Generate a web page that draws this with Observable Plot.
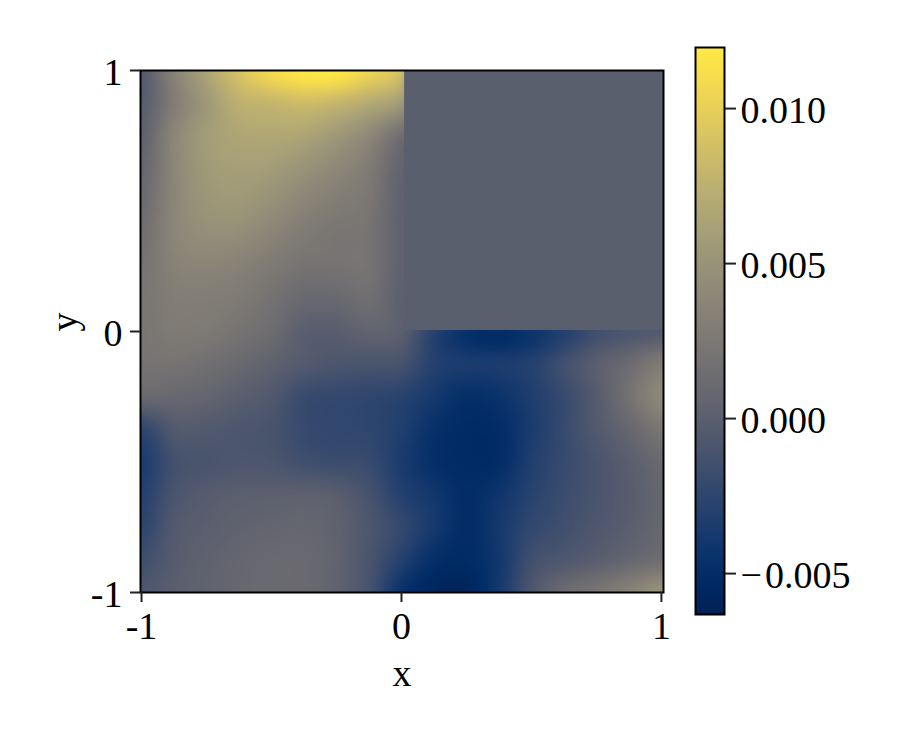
<!DOCTYPE html>
<html><head><meta charset="utf-8">
<script src="https://cdn.jsdelivr.net/npm/d3@7"></script>
<script src="https://cdn.jsdelivr.net/npm/@observablehq/plot@0.6"></script>
<style>
html,body{margin:0;padding:0;background:#fff}
#wrap{position:relative;width:900px;height:750px;overflow:hidden}
#wrap>div,#wrap>svg{position:absolute}
</style></head><body><div id="wrap"></div>
<script>
// field values in units of 1e-3, rows from y=1 down to y=-1, columns x=-1..1, step 0.125
const row00 = [-0.5,3.5,6.5,9,11,12,12,10.5,8.5,0,0,0,0,0,0,0,0];
const row01 = [-0.2,3,5.5,7.5,8,8.5,8,7,5.5,0,0,0,0,0,0,0,0];
const row02 = [0.3,3.8,5.8,6.6,6.8,6.5,5.5,4,1.5,0,0,0,0,0,0,0,0];
const row03 = [0.8,3.8,5.6,6,5.8,5,4,2.8,0.5,0,0,0,0,0,0,0,0];
const row04 = [1.2,3.8,5.2,5.5,4.8,3.8,3,2.3,0.3,0,0,0,0,0,0,0,0];
const row05 = [1.6,3.8,4.6,4.5,3.7,2.8,2.2,2,0.3,0,0,0,0,0,0,0,0];
const row06 = [2,3.4,3.7,3.4,2.7,2,2,2,0.3,0,0,0,0,0,0,0,0];
const row07 = [2.2,3,3,2.7,1.9,1,1,1.5,0.2,0,0,0,0,0,0,0,0];
const row08 = [2.2,2.7,2.6,2,1.3,0,-0.1,0.5,0,-2.8,-4.5,-5,-4.2,-3,-1.5,-0.8,-0.5];
const row09 = [2,2,1.6,1,0.3,-0.4,-0.9,-1,-1.2,-3,-3.5,-3.5,-3,-1.5,0,1.2,2.8];
const row10 = [1,0.9,0.6,0,-0.6,-1.9,-2.2,-2.4,-2.8,-3.8,-4.8,-4.4,-3.3,-2,-0.3,1.8,4];
const row11 = [-2.5,-0.5,-0.5,-0.8,-1.1,-2,-2.3,-2.5,-3.2,-4.6,-5.2,-5,-3.5,-2,-0.5,0.8,2.3];
const row12 = [-3.4,-1.4,-1,-0.8,-0.9,-1.5,-1.8,-2,-3.5,-4.8,-5.2,-5,-3.2,-2,-1,0,1];
const row13 = [-3,-1,-0.3,0,0.1,0.2,-0.1,-1.2,-3,-4,-5,-4.2,-2.8,-1.8,-1,-0.2,0.7];
const row14 = [-2.5,-0.5,0,0.4,0.6,0.7,0.3,-0.8,-2.2,-3.8,-5,-3.8,-2.3,-1.5,-0.7,0,0.8];
const row15 = [-1.5,-0.3,0.3,0.7,1,1,0.4,-1,-3,-4.8,-5.2,-4,-1.5,-0.7,0,0.8,1.5];
const row16 = [-0.8,0,0.4,0.8,1,1,0.3,-1.2,-4.5,-5.7,-5.8,-3.8,-0.8,1.2,2.2,3.5,5];
const rows = [row00,row01,row02,row03,row04,row05,row06,row07,row08,row09,row10,row11,row12,row13,row14,row15,row16];

const xTicks = [-1,0,1], yTicks = [-1,0,1];
const barTicks = [-0.005,0,0.005,0.010];
const barLabels = ["\u2212\u200A0.005","0.000","0.005","0.010"];
const colorDomain = [-0.00632,0.01197];
const xDomain = [-1.004,1.008];
const yDomain = [-1,1];
const blank = [{x1:0.012,x2:1.008,y1:0.004,y2:1,v:0}];

const color = {type:"linear",scheme:"cividis",domain:colorDomain};
const font = {fontFamily:"'Liberation Serif',serif",fontSize:"38px",color:"#000",background:"transparent",overflow:"visible"};

function cr(p0,p1,p2,p3,t){return p1+0.5*t*(p2-p0+t*(2*p0-5*p1+4*p2-p3+t*(3*(p1-p2)+p3-p0)));}
function at(i,j){return rows[Math.max(0,Math.min(16,j))][Math.max(0,Math.min(16,i))];}
function field(x,y){
  const u=Math.max(0,Math.min(16,(x+1)*8)), v=Math.max(0,Math.min(16,(1-y)*8));
  const i=Math.min(15,Math.floor(u)), j=Math.min(15,Math.floor(v)), s=u-i, t=v-j;
  const c=[];
  for(let k=-1;k<3;k++) c.push(cr(at(i-1,j+k),at(i,j+k),at(i+1,j+k),at(i+2,j+k),s));
  return cr(c[0],c[1],c[2],c[3],t)*0.001;
}

const main = Plot.plot({
  width:900,height:750,marginLeft:140,marginRight:237,marginTop:70,marginBottom:158,
  style:font,
  x:{domain:xDomain},y:{domain:yDomain},color,
  marks:[
    Plot.raster({fill:field,pixelSize:1,x1:xDomain[0],x2:xDomain[1],y1:yDomain[0],y2:yDomain[1]}),
    Plot.rect(blank,{x1:"x1",x2:"x2",y1:"y1",y2:"y2",fill:"v"}),
    Plot.frame({stroke:"#000",strokeWidth:2}),
    Plot.axisX({ticks:xTicks,tickSize:10,tickPadding:10,strokeWidth:2,stroke:"#222",fill:"#000",fontSize:38,
      tickFormat:d=>d<0?"-1":String(d),label:null}),
    Plot.axisY({ticks:yTicks,tickSize:10,strokeWidth:2,stroke:"#222",text:null,label:null}),
    Plot.axisY({ticks:yTicks,tickSize:0,tickPadding:18,dy:2,fill:"#000",fontSize:38,
      tickFormat:d=>d<0?"-1":String(d),label:null}),
    Plot.text(["x"],{frameAnchor:"bottom",dy:93,fill:"#000",fontSize:38}),
    Plot.text(["y"],{frameAnchor:"left",dx:-76,rotate:-90,fill:"#000",fontSize:38})
  ]
});
const bar = Plot.plot({
  width:207,height:571,marginLeft:2,marginRight:176,marginTop:2,marginBottom:2,
  style:font,
  x:{domain:[0,1],axis:null},y:{domain:colorDomain},color,
  marks:[
    Plot.raster({fill:(x,y)=>y,pixelSize:1,x1:0,x2:1,y1:colorDomain[0],y2:colorDomain[1]}),
    Plot.frame({stroke:"#000",strokeWidth:2}),
    Plot.axisY({anchor:"right",ticks:barTicks,tickSize:11,strokeWidth:2,stroke:"#222",text:null,label:null}),
    Plot.axisY({anchor:"right",ticks:barTicks,tickSize:0,tickPadding:16,dy:2,fill:"#000",fontSize:38,
      tickFormat:d=>barLabels[barTicks.indexOf(d)],label:null})
  ]
});
const wrap=document.getElementById("wrap");
main.style.left="0px";main.style.top="0px";
bar.style.left="693px";bar.style.top="45px";
wrap.append(main,bar);
</script></body></html>
